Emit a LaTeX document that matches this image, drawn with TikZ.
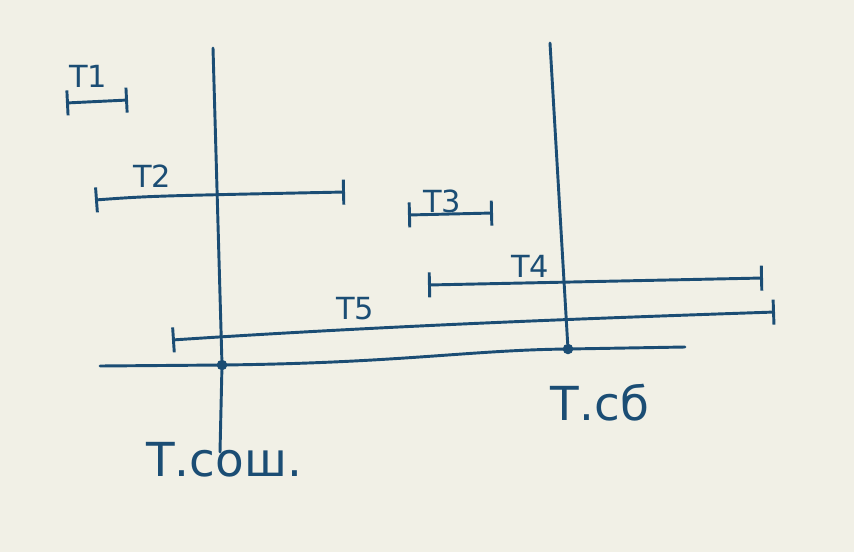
\documentclass[tikz,border=0pt]{standalone}
\usepackage{fontspec}
\setmainfont{DejaVu Sans}
\usepackage{xcolor}
\usetikzlibrary{arrows.meta}
\definecolor{ink}{HTML}{1B4D74}
\definecolor{paper}{HTML}{F1F0E6}
\tikzset{>=Latex}

\begin{document}
\begin{tikzpicture}[x=0.03cm,y=-0.03cm]

         %%%%%%%%%%%%%%%%%%%%%%%%%%%%%%%%%%%%%%%%%%%%%%%%%%%%%%%%%%%%%%%%%%%%%%
         % Parameter
         %%%%%%%%%%%%%%%%%%%%%%%%%%%%%%%%%%%%%%%%%%%%%%%%%%%%%%%%%%%%%%%%%%%%%%
         \def\W{854}
         \def\H{552}

         % Stile fuer Linien, Intervalle und Beschriftungen
         \tikzset{
            pen/.style={ink, line width=2.5pt, line cap=round},
            interval/.style={pen, {Bar[width=7.5mm]}-{Bar[width=7.5mm]}},
            tlabel/.style={ink, font=\fontsize{26}{30}\selectfont, inner sep=0pt},
            plabel/.style={ink, font=\fontsize{40}{44}\selectfont, inner sep=0pt},
            event/.style={circle, fill=ink, inner sep=0pt, minimum size=9pt}
         }

         %%%%%%%%%%%%%%%%%%%%%%%%%%%%%%%%%%%%%%%%%%%%%%%%%%%%%%%%%%%%%%%%%%%%%%
         % Hintergrund
         %%%%%%%%%%%%%%%%%%%%%%%%%%%%%%%%%%%%%%%%%%%%%%%%%%%%%%%%%%%%%%%%%%%%%%
         \fill[paper] (0,0) rectangle (\W,\H);
         \useasboundingbox (0,0) rectangle (\W,\H);

         %%%%%%%%%%%%%%%%%%%%%%%%%%%%%%%%%%%%%%%%%%%%%%%%%%%%%%%%%%%%%%%%%%%%%%
         % Zeitachse und Punkte
         %%%%%%%%%%%%%%%%%%%%%%%%%%%%%%%%%%%%%%%%%%%%%%%%%%%%%%%%%%%%%%%%%%%%%%
         \coordinate (AxisStart) at (100,366);
         \coordinate (AxisEnd)   at (685,347);

         \node[event] (Sync) at (222,365) {};
         \node[event] (Fail) at (568,349) {};

         \draw[pen] (AxisStart) -- (Sync.center)
            .. controls (400,363) and (470,350) .. (Fail.center) -- (AxisEnd);

         % senkrechte Linien
         \coordinate (SyncTop) at (213,48);
         \coordinate (SyncBot) at (220,452);
         \coordinate (FailTop) at (550,43);

         \draw[pen] (SyncTop) -- (Sync) -- (SyncBot);
         \draw[pen] (FailTop) -- (Fail);

         %%%%%%%%%%%%%%%%%%%%%%%%%%%%%%%%%%%%%%%%%%%%%%%%%%%%%%%%%%%%%%%%%%%%%%
         % Intervalle T1 ... T5
         %%%%%%%%%%%%%%%%%%%%%%%%%%%%%%%%%%%%%%%%%%%%%%%%%%%%%%%%%%%%%%%%%%%%%%
         \coordinate (OneStart)   at (66,103);
         \coordinate (OneEnd)     at (128,100);
         \coordinate (TwoStart)   at (95,200);
         \coordinate (TwoEnd)     at (345,192);
         \coordinate (ThreeStart) at (408,215);
         \coordinate (ThreeEnd)   at (493,213);
         \coordinate (FourStart)  at (428,285);
         \coordinate (FourEnd)    at (763,278);
         \coordinate (FiveStart)  at (172,340);
         \coordinate (FiveEnd)    at (775,312);

         \draw[interval] (OneStart) -- (OneEnd);
         \draw[interval] (TwoStart) .. controls (150,196) .. (TwoEnd);
         \draw[interval] (ThreeStart) -- (ThreeEnd);
         \draw[interval] (FourStart) -- (FourEnd);
         \draw[interval] (FiveStart) .. controls (400,325) and (600,318) .. (FiveEnd);

         \node[tlabel] (LabOne)   at (88,76)   {Т1};
         \node[tlabel] (LabTwo)   at (152,176) {Т2};
         \node[tlabel] (LabThree) at (442,201) {Т3};
         \node[tlabel] (LabFour)  at (530,266) {Т4};
         \node[tlabel] (LabFive)  at (355,309) {Т5};

         %%%%%%%%%%%%%%%%%%%%%%%%%%%%%%%%%%%%%%%%%%%%%%%%%%%%%%%%%%%%%%%%%%%%%%
         % Beschriftung der Punkte
         %%%%%%%%%%%%%%%%%%%%%%%%%%%%%%%%%%%%%%%%%%%%%%%%%%%%%%%%%%%%%%%%%%%%%%
         \node[plabel] (LabSync) at (224,460) {Т.сош.};
         \node[plabel] (LabFail) at (600,403) {Т.сб};

\end{tikzpicture}
\end{document}
